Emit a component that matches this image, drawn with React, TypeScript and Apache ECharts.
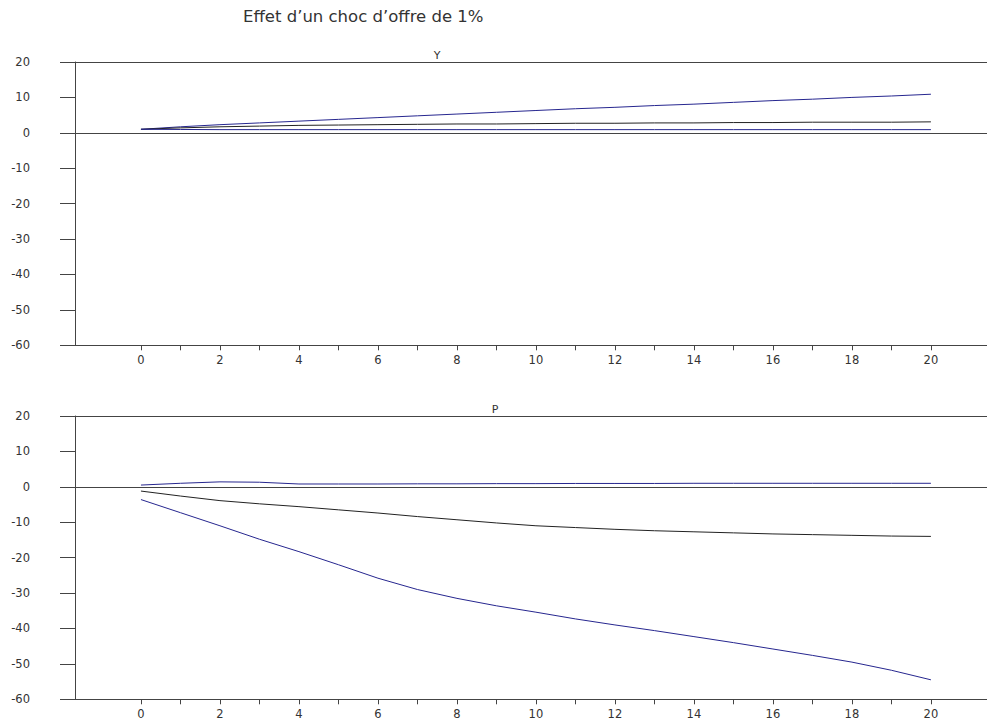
import React, { useEffect, useRef } from "react";
import * as echarts from "echarts";

const periods = [0, 1, 2, 3, 4, 5, 6, 7, 8, 9, 10, 11, 12, 13, 14, 15, 16, 17, 18, 19, 20];
const tickValues = [0, 1, 2, 3, 4, 5, 6, 7, 8, 9, 10, 11, 12, 13, 14, 15, 16, 17, 18, 19, 20];
const labelValues = [0, 2, 4, 6, 8, 10, 12, 14, 16, 18, 20];

const yUpper = [1.0, 1.7, 2.3, 2.8, 3.3, 3.8, 4.3, 4.8, 5.3, 5.8, 6.3, 6.8, 7.2, 7.7, 8.1, 8.6, 9.1, 9.5, 10.0, 10.4, 10.9];
const yMid = [1.0, 1.4, 1.7, 1.9, 2.1, 2.2, 2.3, 2.4, 2.5, 2.5, 2.6, 2.7, 2.7, 2.8, 2.8, 2.9, 2.9, 3.0, 3.0, 3.0, 3.1];
const yLower = [1.0, 0.95, 0.9, 0.9, 0.9, 0.9, 0.9, 0.9, 0.9, 0.9, 0.9, 0.9, 0.9, 0.9, 0.9, 0.9, 0.9, 0.9, 0.9, 0.9, 0.9];

const pUpper = [0.5, 1.0, 1.4, 1.3, 0.8, 0.8, 0.8, 0.85, 0.85, 0.9, 0.9, 0.95, 0.95, 0.95, 1.0, 1.0, 1.0, 1.0, 1.0, 1.0, 1.0];
const pMid = [-1.2, -2.6, -3.9, -4.8, -5.6, -6.5, -7.4, -8.4, -9.3, -10.2, -11.0, -11.5, -12.0, -12.4, -12.7, -13.0, -13.3, -13.5, -13.7, -13.9, -14.0];
const pLower = [-3.6, -7.3, -11.0, -14.8, -18.3, -22.0, -25.8, -29.0, -31.5, -33.6, -35.4, -37.3, -39.0, -40.6, -42.3, -44.0, -45.8, -47.6, -49.5, -51.8, -54.5];

const titleText = "Effet d’un choc d’offre de 1%";
const panelNames = ["Y", "P"];

const BLUE = "#26268f";
const BLACK = "#222222";
const AXIS = "#444444";
const FONT = "DejaVu Sans, Liberation Sans, sans-serif";

function pairs(arr: number[]) {
  return periods.map((p, i) => [p, arr[i]]);
}

export default function App() {
  const ref = useRef<HTMLDivElement>(null);
  useEffect(() => {
    document.body.style.margin = "0";
    const chart = echarts.init(ref.current!, null, { renderer: "svg" });

    const xBase = (gridIndex: number) => ({
      type: "value",
      gridIndex,
      min: -1.67,
      max: 21.42,
      position: "bottom",
      axisLine: { show: true, onZero: false, lineStyle: { color: AXIS, width: 1 } },
      axisTick: {
        show: true,
        length: 5,
        customValues: tickValues,
        lineStyle: { color: AXIS },
      },
      axisLabel: {
        show: true,
        customValues: labelValues,
        color: "#333",
        fontSize: 11.5,
        fontFamily: FONT,
        margin: 9,
      },
      splitLine: { show: false },
    });
    const xTop = (gridIndex: number) => ({
      type: "value",
      gridIndex,
      min: -1.67,
      max: 21.42,
      position: "top",
      axisLine: { show: true, onZero: false, lineStyle: { color: AXIS, width: 1 } },
      axisTick: { show: false },
      axisLabel: { show: false },
      splitLine: { show: false },
    });
    const yBase = (gridIndex: number) => ({
      type: "value",
      gridIndex,
      min: -60,
      max: 20,
      interval: 10,
      axisLine: { show: true, onZero: false, lineStyle: { color: AXIS, width: 1 } },
      axisTick: { show: true, length: 15, lineStyle: { color: AXIS } },
      axisLabel: {
        color: "#333",
        fontSize: 11.5,
        fontFamily: FONT,
        margin: 45,
        align: "right",
      },
      splitLine: { show: false },
    });

    const line = (name: string, arr: number[], color: string, idx: number, zero: boolean) => ({
      type: "line",
      name,
      xAxisIndex: idx * 2,
      yAxisIndex: idx,
      data: pairs(arr),
      symbol: "none",
      lineStyle: { color, width: 1 },
      itemStyle: { color },
      z: 3,
      markLine: zero
        ? {
            silent: true,
            symbol: ["none", "none"],
            label: { show: false },
            lineStyle: { color: AXIS, width: 1, type: "solid" },
            data: [{ yAxis: 0 }],
          }
        : undefined,
    });

    chart.setOption({
      animation: false,
      backgroundColor: "#ffffff",
      title: [
        {
          text: titleText,
          left: 243,
          top: 8,
          padding: 0,
          textStyle: { fontSize: 16.5, fontWeight: "normal", color: "#333", fontFamily: FONT },
        },
        {
          text: panelNames[0],
          left: 437,
          top: 50,
          padding: 0,
          textAlign: "center",
          textStyle: { fontSize: 11, fontWeight: "normal", color: "#333", fontFamily: FONT },
        },
        {
          text: panelNames[1],
          left: 495,
          top: 404,
          padding: 0,
          textAlign: "center",
          textStyle: { fontSize: 11, fontWeight: "normal", color: "#333", fontFamily: FONT },
        },
      ],
      grid: [
        { left: 75, top: 62, width: 912, height: 283.3 },
        { left: 75, top: 416, width: 912, height: 283.3 },
      ],
      xAxis: [xBase(0), xTop(0), xBase(1), xTop(1)],
      yAxis: [yBase(0), yBase(1)],
      series: [
        line("Y haut", yUpper, BLUE, 0, true),
        line("Y milieu", yMid, BLACK, 0, false),
        line("Y bas", yLower, BLUE, 0, false),
        line("P haut", pUpper, BLUE, 1, true),
        line("P milieu", pMid, BLACK, 1, false),
        line("P bas", pLower, BLUE, 1, false),
      ],
    });
    return () => chart.dispose();
  }, []);
  return <div ref={ref} style={{ width: 987, height: 722 }} />;
}
